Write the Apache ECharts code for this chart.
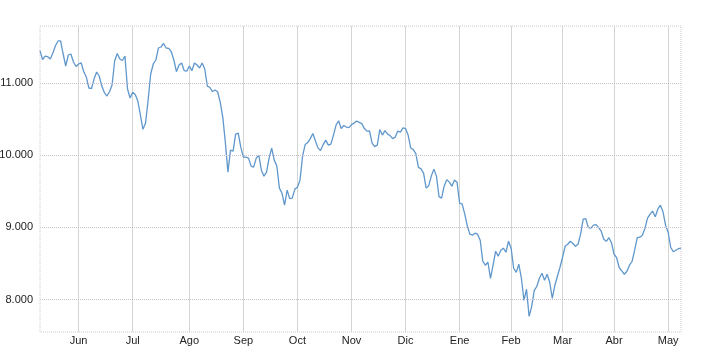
<!DOCTYPE html>
<html>
<head>
<meta charset="utf-8">
<script src="https://cdn.jsdelivr.net/npm/echarts@6/dist/echarts.min.js"></script>
<style>html,body{margin:0;padding:0;background:#fff;}#c{width:714px;height:362px;}</style>
</head>
<body>
<div id="c"></div>
<script>
const monthNames = ['Jun','Jul','Ago','Sep','Oct','Nov','Dic','Ene','Feb','Mar','Abr','May'];
const monthStartIdx = [15,36,58,79,100,121,142,163,183,203,223,244];
const yTicks = [8000, 9000, 10000, 11000];
const values = [
11448,11326,11374,11365,11333,11416,11517,11583,11583,11402,
11236,11388,11402,11291,11229,11264,11280,11157,11083,10931,
10924,11055,11153,11097,10958,10868,10820,10879,10972,11305,
11409,11333,11312,11374,10917,10792,10871,10840,10750,10556,
10358,10445,10764,11125,11264,11319,11485,11499,11548,11485,
11481,11434,11319,11157,11250,11277,11173,11164,11236,11171,
11277,11250,11208,11277,11194,10958,10938,10882,10903,10879,
10736,10528,10182,9766,10071,10057,10293,10307,10112,9974,
9974,9960,9849,9835,9960,10001,9793,9710,9766,9960,
10098,9932,9849,9544,9474,9308,9516,9398,9405,9530,
9557,9655,9987,10147,10175,10230,10300,10196,10098,10064,
10147,10209,10140,10154,10279,10417,10477,10369,10411,10390,
10383,10424,10445,10473,10456,10438,10369,10334,10338,10168,
10119,10140,10355,10279,10341,10293,10272,10230,10251,10334,
10320,10379,10369,10279,10101,10078,10022,9831,9810,9752,
9544,9578,9710,9807,9710,9426,9405,9571,9662,9627,
9571,9655,9627,9336,9322,9183,9017,8906,8892,8920,
8906,8822,8531,8476,8517,8295,8476,8670,8600,8684,
8712,8656,8808,8712,8434,8378,8490,8295,7990,8143,
7768,7907,8129,8184,8295,8365,8268,8351,8240,8018,
8198,8323,8448,8587,8739,8767,8808,8777,8739,8767,
8906,9114,9121,8996,8989,9031,9038,8996,8947,8836,
8808,8857,8788,8628,8580,8441,8397,8351,8392,8476,
8531,8684,8857,8864,8892,8989,9128,9183,9225,9148,
9252,9308,9218,9031,8933,8725,8663,8684,8705,8712
];

const categories = values.map((v, i) => {
  const k = monthStartIdx.indexOf(i);
  return k >= 0 ? monthNames[k] : String(i);
});
const isStart = (i) => monthStartIdx.indexOf(i) >= 0;
const fmt = (v) => String(v).replace(/\B(?=(\d{3})+(?!\d))/g, '.');

const chart = echarts.init(document.getElementById('c'), null, {renderer: 'canvas'});
chart.setOption({
  animation: false,
  backgroundColor: '#fff',
  grid: {left: 40, right: 33, top: 26, bottom: 30, show: true,
         containLabel: false, outerBoundsMode: 'none',
         borderColor: '#d0c6d0', borderWidth: 1, borderType: 'dotted'},
  xAxis: {
    type: 'category',
    data: categories,
    boundaryGap: false,
    axisLine: {show: false},
    axisTick: {show: false},
    axisLabel: {
      interval: (i) => isStart(i),
      formatter: (v, i) => isStart(i) ? v : '',
      color: '#222', fontFamily: 'Liberation Sans, Arial, sans-serif', fontSize: 11, margin: 3
    },
    splitLine: {show: true, interval: (i) => isStart(i),
      lineStyle: {color: '#d3d7d3', width: 1, type: 'solid'}}
  },
  yAxis: {
    type: 'value',
    min: 7551, max: 11790,
    axisLine: {show: false},
    axisTick: {show: false},
    splitLine: {show: false},
    axisLabel: {
      customValues: yTicks,
      formatter: (v) => fmt(v),
      color: '#222', fontFamily: 'Liberation Sans, Arial, sans-serif', fontSize: 11, margin: 7
    }
  },
  series: [{
    type: 'line',
    data: values,
    symbol: 'none',
    lineStyle: {color: '#6097cc', width: 1.3},
    markLine: {
      silent: true, symbol: 'none', label: {show: false}, animation: false,
      lineStyle: {color: '#cbbdcb', width: 1, type: 'dotted'},
      data: yTicks.map(v => ({yAxis: v}))
    },
    z: 3
  }]
});
</script>
</body>
</html>
